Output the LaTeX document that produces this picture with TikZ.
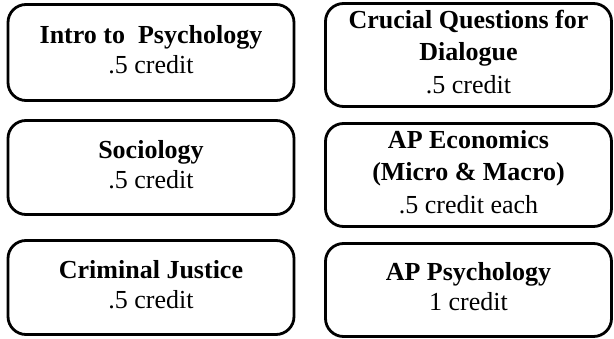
\documentclass[tikz,border=0pt]{standalone}
\usepackage{fontspec}
\setmainfont{Liberation Serif}

\begin{document}
\begin{tikzpicture}[x=1pt,y=-1pt,
	course/.style={draw, line width=2.8pt, rounded corners=18pt, align=center,
		minimum width=286pt, inner sep=0pt, text depth=7pt,
		font=\fontsize{26}{30}\selectfont},
	tall/.style={font=\fontsize{26}{32.5}\selectfont}]
	\useasboundingbox (0,0) rectangle (614,339);
	\node[course, minimum height=96pt] (intro) at (151,52.5) {\textbf{Intro to~ Psychology}\\ .5 credit};
	\node[course, tall, minimum height=103pt] (crucial) at (468.5,55) {\textbf{Crucial Questions for}\\ \textbf{Dialogue}\\ .5 credit};
	\node[course, minimum height=94pt] (socio) at (151,167.5) {\textbf{Sociology}\\ .5 credit};
	\node[course, tall, minimum height=103pt] (econ) at (468.5,175) {\textbf{AP Economics}\\ \textbf{(Micro \& Macro)}\\ .5 credit each};
	\node[course, minimum height=94pt] (crim) at (151,287.5) {\textbf{Criminal Justice}\\ .5 credit};
	\node[course, minimum height=93pt] (appsych) at (468.5,290) {\textbf{AP Psychology}\\ 1 credit};
\end{tikzpicture}
\end{document}
